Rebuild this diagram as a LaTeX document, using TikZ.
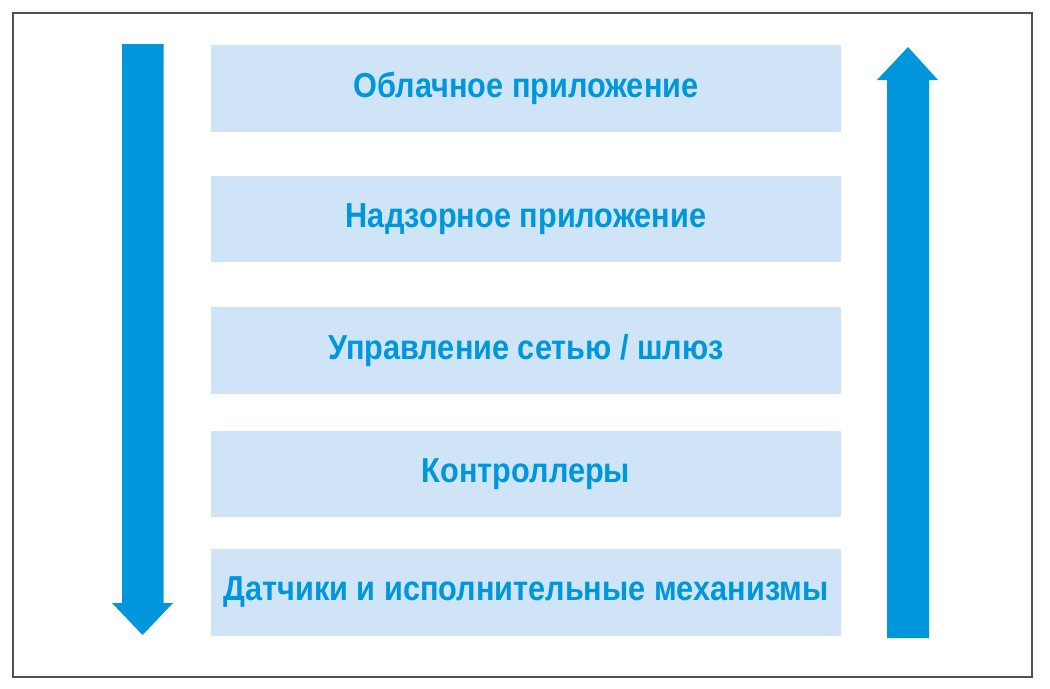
\documentclass[tikz,border=0pt]{standalone}
\usepackage{fontspec}
\setmainfont{Liberation Sans}[FakeStretch=0.885]
\definecolor{arrowblue}{HTML}{0096DC}
\definecolor{layerfill}{HTML}{CFE5F7}
\definecolor{framegray}{HTML}{505050}
\begin{document}
\begin{tikzpicture}[x=0.75pt,y=-0.75pt,
  layer/.style={fill=layerfill, draw=none, minimum width=472.5pt, inner sep=0pt,
    text=arrowblue, font=\fontsize{26}{29}\selectfont\bfseries},
  bigarrow/.style={fill=arrowblue, draw=none}]
\useasboundingbox (0,0) rectangle (1050,689);
\draw[framegray, line width=1.5pt] (13,13) rectangle (1032,677);
% layers
\node[layer, minimum height=65.25pt] (l1) at (526,88.5) {Облачное приложение};
\node[layer, minimum height=64.5pt] (l2) at (526,219) {Надзорное приложение};
\node[layer, minimum height=65.25pt] (l3) at (526,350.5) {Управление сетью / шлюз};
\node[layer, minimum height=64.5pt] (l4) at (526,474) {Контроллеры};
\node[layer, minimum height=65.25pt] (l5) at (526,592.5) {Датчики и исполнительные механизмы};
% down arrow
\fill[bigarrow] (122,44) -- (163.5,44) -- (163.5,603) -- (173,603) -- (142.5,635) -- (112,603) -- (122,603) -- cycle;
% up arrow
\fill[bigarrow] (887,638) -- (929,638) -- (929,80) -- (938,80) -- (908,47) -- (877,80) -- (887,80) -- cycle;
\end{tikzpicture}
\end{document}
